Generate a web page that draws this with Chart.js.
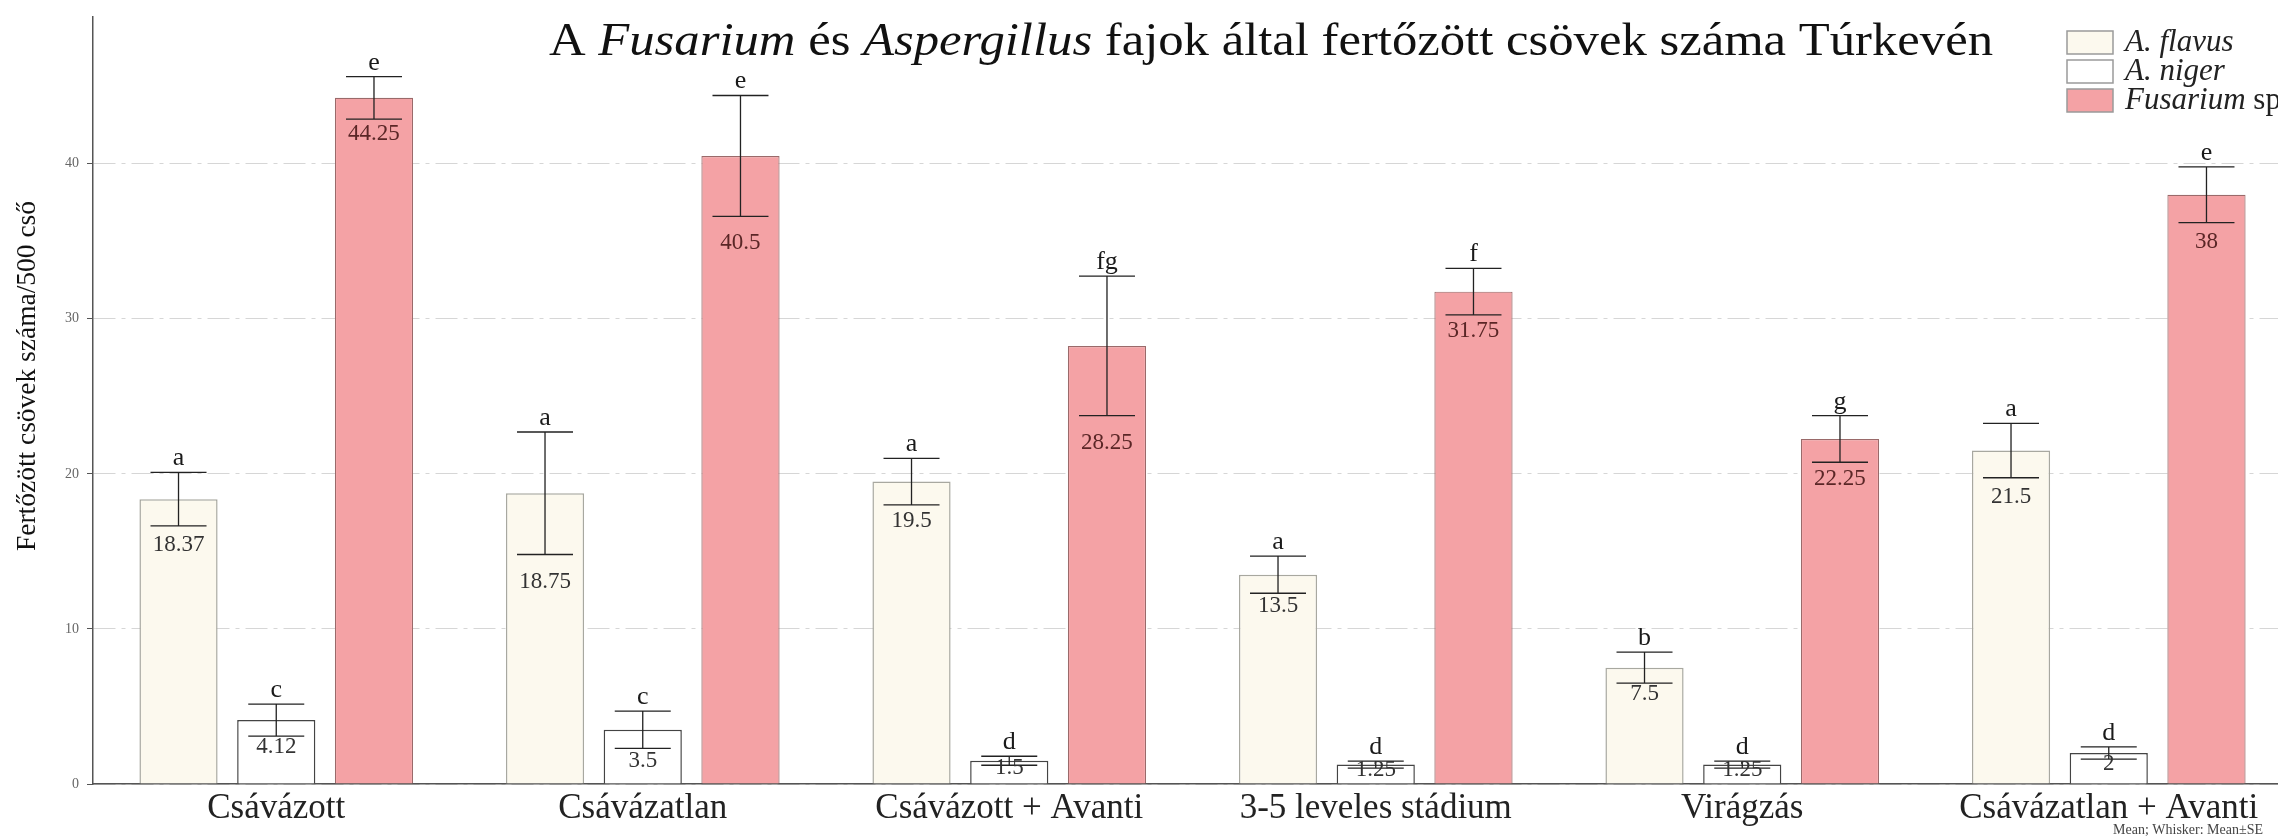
<!DOCTYPE html>
<html><head><meta charset="utf-8">
<script src="https://cdn.jsdelivr.net/npm/chart.js@4.4.0/dist/chart.umd.min.js"></script>
<style>
html,body{margin:0;padding:0;background:#fff;overflow:hidden}
#wrap{width:2278px;height:836px;overflow:hidden;position:relative;background:#fff}
canvas{display:block}
</style></head>
<body><div id="wrap"><canvas id="c" width="2310" height="836"></canvas></div>
<script>
const categories = ['Csávázott','Csávázatlan','Csávázott + Avanti','3-5 leveles stádium','Virágzás','Csávázatlan + Avanti'];
const flavusMean = [18.37, 18.75, 19.5, 13.5, 7.5, 21.5];
const flavusSE = [1.72, 3.95, 1.5, 1.2, 1.0, 1.75];
const flavusLetters = ['a','a','a','a','b','a'];
const nigerMean = [4.12, 3.5, 1.5, 1.25, 1.25, 2];
const nigerSE = [1.03, 1.2, 0.29, 0.22, 0.22, 0.4];
const nigerLetters = ['c','c','d','d','d','d'];
const fusariumMean = [44.25, 40.5, 28.25, 31.75, 22.25, 38];
const fusariumSE = [1.37, 3.9, 4.5, 1.5, 1.5, 1.8];
const fusariumLetters = ['e','e','fg','f','g','e'];
const yTicks = [0, 10, 20, 30, 40];
const yMax = 49.5;
const seriesNames = ['A. flavus', 'A. niger', 'Fusarium sp.'];
const titleParts = [['A ', false], ['Fusarium', true], [' és ', false], ['Aspergillus', true], [' fajok által fertőzött csövek száma Túrkevén', false]];
const yTitle = 'Fertőzött csövek száma/500 cső';
const footnote = 'Mean; Whisker: Mean±SE';

const SERIF = '"Liberation Serif", "Times New Roman", serif';
const seList = [flavusSE, nigerSE, fusariumSE];
const letterList = [flavusLetters, nigerLetters, fusariumLetters];
const valueColors = ['#333333', '#333333', '#5a2626'];

const overlay = {
  id: 'overlay',
  afterDatasetsDraw(chart) {
    const ctx = chart.ctx;
    const ys = chart.scales.y;
    chart.data.datasets.forEach((ds, di) => {
      const meta = chart.getDatasetMeta(di);
      meta.data.forEach((bar, i) => {
        const m = ds.data[i], se = seList[di][i];
        const x = bar.x;
        const yTop = ys.getPixelForValue(m + se);
        const yBot = ys.getPixelForValue(m - se);
        const yMid = ys.getPixelForValue(m);
        ctx.save();
        ctx.strokeStyle = '#222';
        ctx.lineWidth = 1.3;
        ctx.beginPath();
        ctx.moveTo(x, yTop); ctx.lineTo(x, yBot);
        ctx.moveTo(x - 28, yTop); ctx.lineTo(x + 28, yTop);
        ctx.moveTo(x - 28, yBot); ctx.lineTo(x + 28, yBot);
        ctx.stroke();
        ctx.fillStyle = '#1a1a1a';
        ctx.font = '26px ' + SERIF;
        ctx.textAlign = 'center';
        ctx.textBaseline = 'alphabetic';
        ctx.fillText(letterList[di][i], x, yTop - 7);
        const sePx = yBot - yMid;
        const off = Math.min(sePx * 0.7, 27);
        ctx.fillStyle = valueColors[di];
        ctx.font = '23px ' + SERIF;
        ctx.textBaseline = 'middle';
        ctx.fillText(String(m), x, yBot + off);
        ctx.restore();
      });
    });
  },
  afterDraw(chart) {
    const ctx = chart.ctx;
    ctx.save();
    ctx.fillStyle = '#111';
    ctx.textBaseline = 'alphabetic';
    ctx.textAlign = 'left';
    const size = 46;
    let total = 0;
    const widths = titleParts.map(([t, it]) => {
      ctx.font = (it ? 'italic ' : '') + size + 'px ' + SERIF;
      const w = ctx.measureText(t).width; total += w; return w;
    });
    const target = 1444;
    const sx = target / total;
    const cx = 1271;
    ctx.translate(cx - target / 2, 55);
    ctx.scale(sx, 1);
    let xx = 0;
    titleParts.forEach(([t, it], k) => {
      ctx.font = (it ? 'italic ' : '') + size + 'px ' + SERIF;
      ctx.fillText(t, xx, 0);
      xx += widths[k];
    });
    ctx.restore();

    ctx.save();
    const boxY = [31, 60, 89];
    chart.data.datasets.forEach((d, k) => {
      ctx.fillStyle = d.backgroundColor;
      ctx.strokeStyle = '#9a9a9a';
      ctx.lineWidth = 1.5;
      ctx.fillRect(2067, boxY[k], 46, 23);
      ctx.strokeRect(2067, boxY[k], 46, 23);
      ctx.fillStyle = '#222';
      ctx.textBaseline = 'middle';
      ctx.textAlign = 'left';
      const name = seriesNames[k];
      if (k < 2) {
        ctx.font = 'italic 31px ' + SERIF;
        ctx.fillText(name, 2125, boxY[k] + 12);
      } else {
        const parts = name.split(' ');
        ctx.font = 'italic 31px ' + SERIF;
        ctx.fillText(parts[0], 2125, boxY[k] + 12);
        const w = ctx.measureText(parts[0] + ' ').width;
        ctx.font = '31px ' + SERIF;
        ctx.fillText(parts[1], 2125 + w, boxY[k] + 12);
      }
    });
    ctx.restore();

    ctx.save();
    ctx.fillStyle = '#111';
    ctx.font = '28px ' + SERIF;
    const yw = ctx.measureText(yTitle).width;
    ctx.translate(28, 376);
    ctx.rotate(-Math.PI / 2);
    ctx.scale(350 / yw, 1);
    ctx.textAlign = 'center';
    ctx.textBaseline = 'middle';
    ctx.fillText(yTitle, 0, 0);
    ctx.restore();

    ctx.save();
    ctx.fillStyle = '#444';
    ctx.font = '14px ' + SERIF;
    ctx.textAlign = 'center';
    ctx.textBaseline = 'middle';
    ctx.fillText(footnote, 2188, 830);
    ctx.restore();
  }
};

new Chart(document.getElementById('c'), {
  type: 'bar',
  data: {
    labels: categories,
    datasets: [
      { label: seriesNames[0], data: flavusMean, backgroundColor: '#FCF9EE', borderColor: '#A8A8A0', borderWidth: 1.5 },
      { label: seriesNames[1], data: nigerMean, backgroundColor: '#FFFFFF', borderColor: '#444444', borderWidth: 1.5 },
      { label: seriesNames[2], data: fusariumMean, backgroundColor: '#F4A2A5', borderColor: '#9A6A6A', borderWidth: 1.2 }
    ]
  },
  options: {
    responsive: false,
    animation: false,
    devicePixelRatio: 1,
    layout: { padding: { left: 0, top: 12, right: 18, bottom: 0 } },
    plugins: { legend: { display: false }, tooltip: { enabled: false }, title: { display: false } },
    datasets: { bar: { categoryPercentage: 0.8, barPercentage: 0.8 } },
    scales: {
      x: {
        grid: { display: false, drawTicks: false },
        border: { display: true, color: '#555', width: 1.5 },
        ticks: { color: '#222', font: { family: SERIF, size: 35 }, padding: 4, maxRotation: 0, autoSkip: false },
        afterFit(s) { s.height = 52; }
      },
      y: {
        min: 0, max: yMax,
        afterBuildTicks(s) { s.ticks = yTicks.map(v => ({ value: v })); },
        grid: { color: '#d6d6d6', lineWidth: 1, tickLength: 6, tickColor: '#555', tickBorderDash: [] },
        border: { display: true, color: '#555', width: 1.5, dash: [22, 6, 4, 6] },
        ticks: { color: '#666', font: { family: SERIF, size: 14 }, padding: 8 },
        afterFit(s) { s.width = 93; }
      }
    }
  },
  plugins: [overlay]
});
</script>
</body></html>
